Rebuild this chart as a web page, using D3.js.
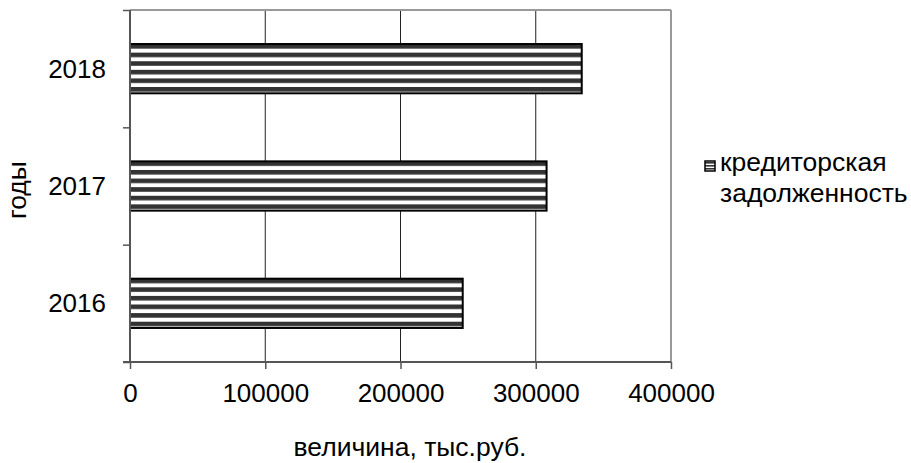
<!DOCTYPE html>
<html>
<head>
<meta charset="utf-8">
<script src="https://cdn.jsdelivr.net/npm/d3@7/dist/d3.min.js"></script>
<style>
  html, body { margin: 0; padding: 0; background: #fff; }
  svg { display: block; font-family: "Liberation Sans", Arial, sans-serif; }
</style>
</head>
<body>
<svg id="chart" width="911" height="463"></svg>
<script>
const categories = ["2018", "2017", "2016"];
const values = [334000, 308000, 246000];
const xTicks = [0, 100000, 200000, 300000, 400000];
const seriesName = ["кредиторская", "задолженность"];
const xTitle = "величина, тыс.руб.";
const yTitle = "годы";

(function () {
const svg = d3.select("#chart");
const pLeft = 130, pRight = 671, pTop = 10, pBottom = 362;
const fs = 26, fsT = 26.5;

const x = d3.scaleLinear().domain([0, 400000]).range([pLeft, pRight]);
const y = d3.scaleBand().domain(categories).range([pTop, pBottom]).paddingInner(0.58).paddingOuter(0.29);
const yEdge = d3.scaleLinear().domain([0, categories.length]).range([pTop, pBottom]);

const defs = svg.append("defs");
const period = 8.6, dark = 4.6;
categories.forEach((c, i) => {
  const p = defs.append("pattern")
    .attr("id", "stripe" + i)
    .attr("patternUnits", "userSpaceOnUse")
    .attr("width", 20).attr("height", period)
    .attr("patternTransform", `translate(0,${y(c)})`);
  p.append("rect").attr("width", 20).attr("height", period).attr("fill", "#fff");
  p.append("rect").attr("width", 20).attr("height", dark).attr("fill", "#333");
});
const lp = defs.append("pattern").attr("id", "stripeLeg").attr("patternUnits", "userSpaceOnUse")
  .attr("width", 20).attr("height", 3).attr("patternTransform", "translate(0,162)");
lp.append("rect").attr("width", 20).attr("height", 3).attr("fill", "#fff");
lp.append("rect").attr("width", 20).attr("height", 1.6).attr("fill", "#333");

// gridlines
svg.append("g").selectAll("line").data(xTicks.slice(1, -1)).join("line")
  .attr("x1", d => x(d)).attr("x2", d => x(d))
  .attr("y1", pTop).attr("y2", pBottom)
  .attr("stroke", "#222").attr("stroke-width", 1);

// frame top & right
svg.append("line").attr("x1", pLeft).attr("x2", pRight).attr("y1", pTop).attr("y2", pTop)
  .attr("stroke", "#999").attr("stroke-width", 2);
svg.append("line").attr("x1", pRight).attr("x2", pRight).attr("y1", pTop).attr("y2", pBottom)
  .attr("stroke", "#999").attr("stroke-width", 2);

// bars
svg.append("g").selectAll("rect").data(categories).join("rect")
  .attr("x", x(0))
  .attr("y", d => y(d))
  .attr("width", (d, i) => x(values[i]) - x(0))
  .attr("height", y.bandwidth())
  .attr("fill", (d, i) => `url(#stripe${i})`)
  .attr("stroke", "#000").attr("stroke-width", 2);

// x axis
const xAxis = d3.axisBottom(x).tickValues(xTicks).tickSize(7).tickSizeOuter(0).tickFormat(d3.format("d"));
const gx = svg.append("g").attr("transform", `translate(0,${pBottom})`).call(xAxis);
gx.select(".domain").remove();
gx.selectAll(".tick line").attr("stroke", "#555").attr("stroke-width", 1.5);
gx.selectAll(".tick text").attr("y", 39.7).attr("dy", 0)
  .attr("font-size", fs).attr("fill", "#000").attr("font-family", "Liberation Sans, Arial, sans-serif");
svg.append("line").attr("x1", pLeft - 7).attr("x2", pRight).attr("y1", pBottom).attr("y2", pBottom)
  .attr("stroke", "#555").attr("stroke-width", 2);

// y axis
const yAxis = d3.axisLeft(yEdge).tickValues(d3.range(categories.length + 1)).tickSize(7).tickSizeOuter(0).tickFormat("");
const gy = svg.append("g").attr("transform", `translate(${pLeft},0)`).call(yAxis);
gy.select(".domain").remove();
gy.selectAll(".tick line").attr("stroke", "#555").attr("stroke-width", 1.5);
svg.append("line").attr("x1", pLeft).attr("x2", pLeft).attr("y1", pTop).attr("y2", pBottom)
  .attr("stroke", "#555").attr("stroke-width", 2);

svg.append("g").selectAll("text").data(categories).join("text")
  .attr("x", 106)
  .attr("y", d => y(d) + y.bandwidth() / 2)
  .attr("dy", "0.34em")
  .attr("text-anchor", "end")
  .attr("font-size", fs)
  .text(d => d);

// titles
svg.append("text").attr("x", 410).attr("y", 456).attr("text-anchor", "middle")
  .attr("font-size", fsT).text(xTitle);
svg.append("text").attr("transform", "translate(26,190) rotate(-90)").attr("text-anchor", "middle")
  .attr("font-size", fsT).text(yTitle);

// legend
svg.append("rect").attr("x", 705).attr("y", 161).attr("width", 10).attr("height", 10)
  .attr("fill", "url(#stripeLeg)").attr("stroke", "#000").attr("stroke-width", 1.5);
svg.append("text").attr("x", 720).attr("y", 171).attr("font-size", fsT).text(seriesName[0]);
svg.append("text").attr("x", 720).attr("y", 202).attr("font-size", fsT).text(seriesName[1]);
})();
</script>
</body>
</html>
